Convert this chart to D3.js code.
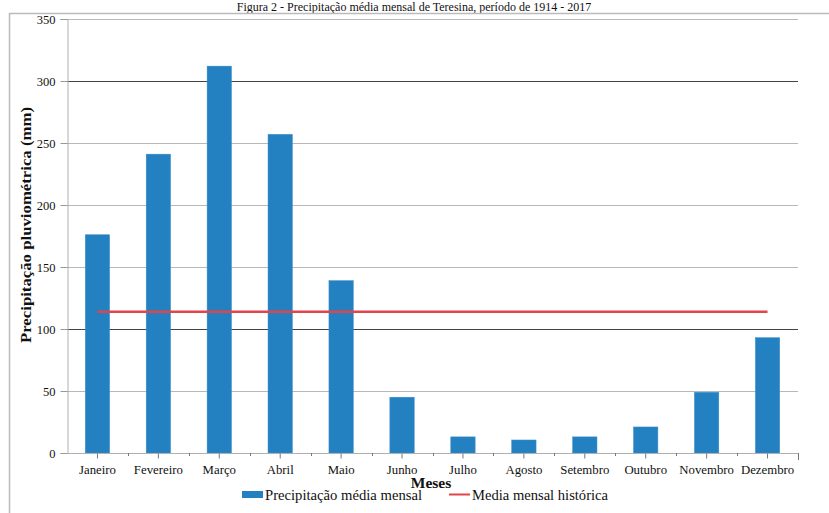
<!DOCTYPE html>
<html><head><meta charset="utf-8">
<script src="https://cdn.jsdelivr.net/npm/d3@7"></script>
<style>body{margin:0;background:#fff}</style>
</head><body>
<svg id="c" width="829" height="513" style="font-family:'Liberation Serif',serif"></svg>
<script>
const months = ["Janeiro","Fevereiro","Março","Abril","Maio","Junho","Julho","Agosto","Setembro","Outubro","Novembro","Dezembro"];
const precip = [176, 241, 312, 257, 139, 45, 13, 10.5, 13, 21, 49, 93];
const mediaHistorica = [114,114,114,114,114,114,114,114,114,114,114,114];
const yTicks = [0, 50, 100, 150, 200, 250, 300, 350];
const title = "Figura 2 - Precipitação média mensal de Teresina, período de 1914 - 2017";
const seriesNames = ["Precipitação média mensal", "Media mensal histórica"];

const FF = "'Liberation Serif', serif";
const svg = d3.select("#c");
const L = 67, R = 798, T = 19, B = 453;
const x = d3.scaleBand().domain(months).range([L, R]).paddingInner(0.6).paddingOuter(0.3);
const xb = d3.scaleBand().domain(months).range([L, R]);
const y = d3.scaleLinear().domain([0, 350]).range([B, T]);

// title
svg.append("text").attr("x", 414).attr("y", 11).attr("text-anchor", "middle")
  .style("font-family", FF).attr("font-size", 12).attr("fill", "#111").text(title);
// frame
svg.append("line").attr("x1", 9).attr("x2", 829).attr("y1", 13.5).attr("y2", 13.5).attr("stroke", "#bbb").attr("stroke-width", 1.5);
svg.append("line").attr("x1", 9.5).attr("x2", 9.5).attr("y1", 13).attr("y2", 513).attr("stroke", "#bbb").attr("stroke-width", 1.5);

// gridlines
svg.append("g").selectAll("line").data(yTicks.filter(d => d > 0)).join("line")
  .attr("x1", L).attr("x2", R).attr("y1", d => Math.round(y(d)) + 0.5).attr("y2", d => Math.round(y(d)) + 0.5)
  .attr("stroke", d => (d === 300 || d === 100) ? "#444" : "#b8b8b8").attr("stroke-width", 1);

// y axis
const ya = svg.append("g").attr("transform", `translate(${L + 0.5},0)`)
  .call(d3.axisLeft(y).tickValues(yTicks).tickSize(7).tickPadding(5));
ya.attr("font-family", null).style("font-family", FF);
ya.select(".domain").attr("stroke", "#b0b0b0");
ya.selectAll(".tick line").attr("stroke", "#999");
ya.selectAll(".tick text").attr("font-size", 12.5).attr("fill", "#111").style("font-family", FF);

// bars
svg.append("g").selectAll("rect").data(precip).join("rect")
  .attr("x", (d, i) => x(months[i])).attr("width", x.bandwidth())
  .attr("y", d => y(d)).attr("height", d => B - y(d))
  .attr("fill", "#2381c2").attr("stroke", "#3b8fca").attr("stroke-width", 0.5);

// x axis
const xa = svg.append("g").attr("transform", `translate(0,${B + 0.5})`)
  .call(d3.axisBottom(xb).tickSize(5).tickPadding(6));
xa.attr("font-family", null).style("font-family", FF);
xa.select(".domain").attr("stroke", "#b0b0b0").attr("d", `M${L},0H${R}`);
xa.selectAll(".tick line").attr("stroke", "#777");
xa.selectAll(".tick text").attr("font-size", 12.8).attr("fill", "#111").style("font-family", FF);
// boundary ticks
svg.append("g").selectAll("line").data(months.slice(1).concat(["end"])).join("line")
  .attr("x1", (d, i) => Math.round(i < 11 ? xb(d) : R) + 0.5).attr("x2", (d, i) => Math.round(i < 11 ? xb(d) : R) + 0.5)
  .attr("y1", B).attr("y2", (d, i) => i < 11 ? B + 3 : B + 7).attr("stroke", "#777");

// media line
const line = d3.line().x((d, i) => xb(months[i]) + xb.bandwidth() / 2).y(d => y(d));
svg.append("path").datum(mediaHistorica).attr("d", line).attr("fill", "none")
  .attr("stroke", "#e0454b").attr("stroke-width", 2.5);

// axis titles
svg.append("text").attr("x", 431).attr("y", 488).attr("text-anchor", "middle").style("font-family", FF)
  .attr("font-size", 15.5).attr("font-weight", "bold").attr("fill", "#111").text("Meses");
svg.append("text").attr("transform", `translate(31,225) rotate(-90)`).style("font-family", FF)
  .attr("text-anchor", "middle").attr("font-size", 15).attr("font-weight", "bold").attr("fill", "#111")
  .attr("textLength", 236).attr("lengthAdjust", "spacingAndGlyphs")
  .text("Precipitação pluviométrica (mm)");

// legend
const lg = svg.append("g").style("font-family", FF);
lg.append("rect").attr("x", 242).attr("y", 491).attr("width", 21).attr("height", 7).attr("fill", "#2381c2");
lg.append("text").attr("x", 265).attr("y", 500).attr("font-size", 15).attr("fill", "#111").style("font-family", FF)
  .attr("textLength", 157).attr("lengthAdjust", "spacingAndGlyphs").text(seriesNames[0]);
lg.append("line").attr("x1", 449).attr("x2", 470).attr("y1", 494.5).attr("y2", 494.5).attr("stroke", "#e0454b").attr("stroke-width", 2);
lg.append("text").attr("x", 472).attr("y", 500).attr("font-size", 15).attr("fill", "#111").style("font-family", FF)
  .attr("textLength", 136).attr("lengthAdjust", "spacingAndGlyphs").text(seriesNames[1]);
</script>
</body></html>
